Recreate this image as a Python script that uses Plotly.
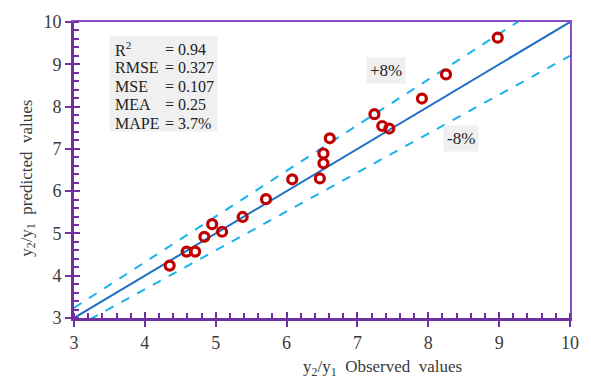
import plotly.graph_objects as go

observed = [4.35, 4.59, 4.71, 4.84, 4.95, 5.09, 5.38, 5.71, 6.08, 6.47, 6.52, 6.52,
            6.61, 7.24, 7.35, 7.45, 7.91, 8.25, 8.98]
predicted = [4.24, 4.57, 4.57, 4.92, 5.22, 5.04, 5.39, 5.81, 6.28, 6.30, 6.66, 6.89,
             7.25, 7.82, 7.54, 7.48, 8.19, 8.76, 9.63]
line_x = [3, 10]
upper_factor = 1.08
lower_factor = 0.92
stat_labels = ["R<sup>2</sup>", "RMSE", "MSE", "MEA", "MAPE"]
stat_values = ["= 0.94", "= 0.327", "= 0.107", "= 0.25", "= 3.7%"]
tick_vals = [3, 4, 5, 6, 7, 8, 9, 10]

FONT = "Liberation Serif, Times New Roman, serif"
PURPLE = "#7030A0"
TXT = "#3a3a3a"

fig = go.Figure()
fig.add_trace(go.Scatter(x=line_x, y=[v * upper_factor for v in line_x], mode="lines",
                         line=dict(color="#1AB2EE", width=2, dash="dash"), showlegend=False))
fig.add_trace(go.Scatter(x=line_x, y=[v * lower_factor for v in line_x], mode="lines",
                         line=dict(color="#1AB2EE", width=2, dash="dash"), showlegend=False))
fig.add_trace(go.Scatter(x=line_x, y=line_x, mode="lines",
                         line=dict(color="#1C6FC2", width=2), showlegend=False))
fig.add_trace(go.Scatter(x=observed, y=predicted, mode="markers",
                         marker=dict(symbol="circle-open", size=9, color="#C00000",
                                     line=dict(width=3.2, color="#C00000")),
                         showlegend=False))

axis_common = dict(range=[3, 10], tickvals=tick_vals, showgrid=False, zeroline=False,
                   linecolor=PURPLE, linewidth=3, showline=True,
                   ticks="outside", ticklen=6, tickwidth=2, tickcolor=PURPLE,
                   tickfont=dict(family=FONT, size=18, color=TXT),
                   minor=dict(dtick=0.2, ticks="inside", ticklen=5, tickwidth=2,
                              tickcolor=PURPLE, showgrid=False))
fig.update_layout(
    width=591, height=385,
    margin=dict(l=74, r=18, t=22, b=67),
    font=dict(family=FONT, size=17, color=TXT),
    paper_bgcolor="white", plot_bgcolor="white",
    xaxis=dict(**axis_common),
    yaxis=dict(**axis_common),
    xaxis3=dict(overlaying="x", matches="x", anchor="y", side="bottom", showline=False,
                tickvals=tick_vals, ticks="inside", ticklen=6, tickwidth=2, tickcolor=PURPLE,
                showticklabels=False, showgrid=False, zeroline=False),
    yaxis3=dict(overlaying="y", matches="y", anchor="x", side="left", showline=False,
                tickvals=tick_vals, ticks="inside", ticklen=6, tickwidth=2, tickcolor=PURPLE,
                showticklabels=False, showgrid=False, zeroline=False),
    xaxis2=dict(overlaying="x", matches="x", anchor="y", side="top", showline=True,
                linecolor="#8A4FC4", linewidth=1.5, ticks="", showticklabels=False,
                showgrid=False, zeroline=False),
    yaxis2=dict(overlaying="y", matches="y", anchor="x", side="right", showline=True,
                linecolor="#8A4FC4", linewidth=1.5, ticks="", showticklabels=False,
                showgrid=False, zeroline=False),
)
fig.add_trace(go.Scatter(x=[None], y=[None], xaxis="x2", yaxis="y2", showlegend=False))
fig.add_trace(go.Scatter(x=[None], y=[None], xaxis="x3", yaxis="y3", showlegend=False))

# stats box
fig.add_shape(type="rect", xref="x", yref="y", x0=3.5, x1=5.02, y0=7.41, y1=9.67,
              fillcolor="#F0F0F0", line=dict(width=0), layer="below")
line_y = [9.36, 8.92, 8.48, 8.04, 7.6]
for lab, val, yy in zip(stat_labels, stat_values, line_y):
    fig.add_annotation(xref="x", yref="y", x=3.55, y=yy, xanchor="left", yanchor="middle",
                       showarrow=False, text=lab, font=dict(family=FONT, size=16, color="#222"))
    fig.add_annotation(xref="x", yref="y", x=4.25, y=yy, xanchor="left", yanchor="middle",
                       showarrow=False, text=val, font=dict(family=FONT, size=16, color="#222"))

fig.add_annotation(xref="x", yref="y", x=7.40, y=8.86, showarrow=False, text="+8%",
                   bgcolor="#F0F0F0", borderpad=3,
                   font=dict(family=FONT, size=17, color="#222"))
fig.add_annotation(xref="x", yref="y", x=8.46, y=7.24, showarrow=False, text="-8%",
                   bgcolor="#F0F0F0", borderpad=3,
                   font=dict(family=FONT, size=17, color="#222"))

fig.add_annotation(xref="x", yref="paper", x=7.36, y=-0.125, yanchor="top", showarrow=False,
                   text="y<sub>2</sub>/y<sub>1</sub>  Observed  values",
                   font=dict(family=FONT, size=17, color=TXT))
fig.add_annotation(xref="paper", yref="y", x=-0.092, y=6.3, xanchor="center", showarrow=False,
                   textangle=-90, text="y<sub>2</sub>/y<sub>1</sub>  predicted  values",
                   font=dict(family=FONT, size=17, color=TXT))

fig.write_html("out.html", config={"displayModeBar": False},
               post_script="document.body.style.margin='0';document.body.style.overflow='hidden';")
